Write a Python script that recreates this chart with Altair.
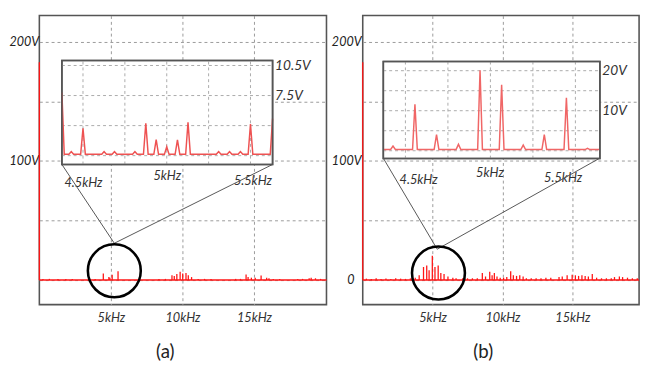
import altair as alt
import pandas as pd

FONT = "Lato, sans-serif"
RED = "#ff1414"

# ---------------- panel (a) data ----------------
a_spike_khz = [0.0, 0.25, 0.7, 1.3, 1.85, 2.3, 3.9,
               4.47, 4.86, 4.93, 5.09, 5.5,
               8.36, 8.81, 9.27, 9.43, 9.61, 9.84, 10.02, 10.25, 10.41, 10.64, 11.1, 11.55, 12.0,
               13.72, 14.06, 14.45, 14.59, 14.82, 15.09, 15.5, 15.89, 16.05, 16.35, 16.8,
               18.06, 18.4, 18.86, 19.0, 19.3, 19.66]
a_spike_v = [183, 1, 1, 1, 1, 1, 1,
             5.5, 2.5, 2.0, 4.5, 7.5,
             1, 1, 4.1, 3.5, 5.0, 6.9, 5.5, 6.0, 4.0, 2.5, 1, 1, 1,
             1, 1, 4.7, 2.5, 2.0, 2.0, 3.8, 2.0, 1.5, 1, 1,
             1, 1, 1.5, 2.0, 1.5, 1]
a_inset_peak_khz = [4.43, 4.5, 4.626, 4.688, 4.81, 4.875, 4.937, 5.0, 5.064, 5.127,
                    5.31, 5.375, 5.44, 5.5]
a_inset_peak_v = [1.9, 4.24, 1.9, 1.9, 1.9, 4.73, 3.1, 2.38, 3.07, 4.83,
                  1.9, 1.9, 1.9, 4.66]
a_inset_base_v = 1.63
a_inset_edge_v = [7.8, 5.2]
a_circle = [5.24, 7.8]
a_conn_from = [[1.575, 97.1], [16.3, 97.1]]
a_conn_to = [5.24, 30.9]

# ---------------- panel (b) data ----------------
b_spike_khz = [0.0, 0.26, 0.61, 0.96, 1.31, 1.66, 2.01, 2.36, 2.71, 3.06, 3.41,
               3.76, 4.04, 4.35, 4.58, 4.75, 4.98, 5.17, 5.4, 5.59, 5.82, 6.1, 6.45, 6.68,
               7.15, 7.5, 7.85, 8.2, 8.56, 8.79, 9.09, 9.26, 9.42, 9.61, 9.84, 10.08, 10.31,
               10.59, 10.78, 11.01, 11.24, 11.48, 11.71, 12.06, 12.41, 12.76, 13.11, 13.46,
               14.05, 14.28, 14.63, 14.99, 15.22, 15.45, 15.69, 15.92, 16.15, 16.43, 16.74,
               17.09, 17.44, 17.79, 18.02, 18.37, 18.6, 18.95, 19.3, 19.65]
b_spike_v = [183, 1.2, 1.0, 1.5, 1.0, 1.3, 1.0, 1.5, 1.2, 1.0, 1.4,
             2.0, 4.1, 11.0, 12.3, 8.2, 20.5, 11.0, 12.3, 6.0, 5.0, 3.0, 2.0, 1.5,
             1.5, 1.5, 1.5, 1.5, 6.0, 3.0, 6.9, 4.0, 6.0, 3.0, 2.0, 2.0, 2.5,
             7.4, 4.0, 3.5, 4.0, 3.0, 1.5, 1.5, 1.5, 1.5, 2.0, 2.0,
             2.5, 3.0, 4.0, 4.5, 4.0, 3.5, 4.0, 3.5, 3.0, 5.0, 2.0,
             1.5, 1.5, 1.5, 2.5, 3.0, 2.5, 2.0, 1.5, 1.5]
b_inset_peak_khz = [4.427, 4.556, 4.683, 4.812, 4.939, 5.066, 5.193, 5.317, 5.447, 5.571]
b_inset_peak_v = [1.15, 11.6, 4.0, 1.6, 20.1, 16.5, 1.4, 4.0, 13.2, 0.6]
b_inset_base_v = 0.3
b_inset_edge_v = [0.3, 0.3]
b_circle = [5.42, 5.9]
b_conn_from = [[1.47, 102.4], [16.97, 102.4]]
b_conn_to = [5.33, 25.9]


def inset_line(peaks_f, peaks_v, base, edges, xmin, xmax, hw):
    fs = [xmin, xmin + hw]
    vs = [edges[0], base]
    for f, v in zip(peaks_f, peaks_v):
        fs += [f - hw, f, f + hw]
        vs += [base, v, base]
    fs += [xmax - hw, xmax]
    vs += [base, edges[1]]
    return pd.DataFrame({"f": fs, "v": vs})


def y_label_expr(labelled):
    parts = []
    for v in labelled:
        txt = "0" if v == 0 else f"{v}V"
        parts.append(f"datum.value == {v} ? '{txt}'")
    return " : ".join(parts) + " : ''"


def cond_num(lo_val, hi_val, mid_val):
    return {"condition": [{"test": "datum.value < 4.75", "value": lo_val},
                          {"test": "datum.value > 5.25", "value": hi_val}],
            "value": mid_val}


def panel(W, H, xdom, ydom, spikes_f, spikes_v, ylabelled, ylab_left, circle, conn_from, conn_to,
          in_xdom, in_xrange, in_ydom, in_yrange, in_vgrid, in_hgrid, in_ylabels,
          in_peaks_f, in_peaks_v, in_base, in_edges, in_color, lab_off, lab_pad,
          title, title_dx):
    sx = alt.Scale(domain=xdom, nice=False, zero=False)
    sy = alt.Scale(domain=ydom, nice=False, zero=False)
    ax = alt.Axis(values=[5, 10, 15], labelExpr="datum.value + 'kHz'", grid=True,
                  gridDash=[3, 3], gridColor="#9a9a9a", gridWidth=1, labelFontSize=13,
                  labelPadding=7, labelFlush=False, title=None)
    # left-aligned labels at a fixed distance from the axis, "0" right-aligned near it
    ay = alt.Axis(values=[0, 50, 100, 150, 200], labelExpr=y_label_expr(ylabelled), grid=True,
                  gridDash=[3, 3], gridColor="#9a9a9a", gridWidth=1, labelFontSize=12.8,
                  labelColor="#222222",
                  labelAlign={"condition": {"test": "datum.value == 0", "value": "right"},
                              "value": "left"},
                  labelPadding={"condition": {"test": "datum.value == 0", "value": 9},
                                "value": ylab_left},
                  title=None)

    def X(f):
        return alt.X(f, type="quantitative", scale=sx, axis=ax)

    def Y(f):
        return alt.Y(f, type="quantitative", scale=sy, axis=ay)

    base_df = pd.DataFrame({"f": [xdom[0], xdom[1]], "v": [0, 0]})
    base = alt.Chart(base_df).mark_line(color=RED, strokeWidth=1.6).encode(x=X("f"), y=Y("v"))
    sp_df = pd.DataFrame({"f": spikes_f, "v0": 0.0, "v": spikes_v})
    spikes = alt.Chart(sp_df).mark_rule(color=RED, strokeWidth=1.3).encode(
        x=X("f"), y=Y("v0"), y2="v")
    cn_df = pd.DataFrame({"f": [p[0] for p in conn_from], "v": [p[1] for p in conn_from],
                          "f2": [conn_to[0]] * 2, "v2": [conn_to[1]] * 2})
    conns = alt.Chart(cn_df).mark_rule(color="#555555", strokeWidth=1).encode(
        x=X("f"), y=Y("v"), x2="f2", y2="v2")
    c_df = pd.DataFrame({"f": [circle[0]], "v": [circle[1]]})
    circ = alt.Chart(c_df).mark_point(shape="circle", size=2916, filled=False, color="black",
                                      strokeWidth=2.6, opacity=1).encode(x=X("f"), y=Y("v"))
    main = alt.layer(base, spikes, conns, circ)

    isx = alt.Scale(domain=in_xdom, range=in_xrange, nice=False, zero=False)
    isy = alt.Scale(domain=in_ydom, range=in_yrange, nice=False, zero=False)
    iax = alt.Axis(values=[4.5, 5, 5.5], labelExpr="datum.value + 'kHz'", grid=False,
                   orient="bottom", offset=-(H - in_yrange[0]),
                   labelPadding=cond_num(lab_pad[0], lab_pad[2], lab_pad[1]),
                   labelOffset=cond_num(lab_off[0], lab_off[2], lab_off[1]),
                   labelFontSize=13, labelFlush=False, title=None)
    iay = alt.Axis(values=in_ylabels, labelExpr="datum.value + 'V'", grid=False,
                   orient="right", offset=-(W - in_xrange[1]), labelPadding=2,
                   labelFontSize=14, title=None)

    def IX(f):
        return alt.X(f, type="quantitative", scale=isx, axis=iax)

    def IY(f):
        return alt.Y(f, type="quantitative", scale=isy, axis=iay)

    box_df = pd.DataFrame({"f": [in_xdom[0]], "f2": [in_xdom[1]],
                           "v": [in_ydom[0]], "v2": [in_ydom[1]]})
    box = alt.Chart(box_df).mark_rect(fill="white", stroke="#555555", strokeWidth=1.6).encode(
        x=IX("f"), x2="f2", y=IY("v"), y2="v2")
    gv_df = pd.DataFrame({"f": in_vgrid, "v": in_ydom[0], "v2": in_ydom[1]})
    gv = alt.Chart(gv_df).mark_rule(color="#aaaaaa", strokeDash=[3, 3], strokeWidth=1).encode(
        x=IX("f"), y=IY("v"), y2="v2")
    gh_df = pd.DataFrame({"v": in_hgrid, "f": in_xdom[0], "f2": in_xdom[1]})
    gh = alt.Chart(gh_df).mark_rule(color="#aaaaaa", strokeDash=[3, 3], strokeWidth=1).encode(
        x=IX("f"), x2="f2", y=IY("v"))
    ln_df = inset_line(in_peaks_f, in_peaks_v, in_base, in_edges, in_xdom[0], in_xdom[1], 0.014)
    ln = alt.Chart(ln_df).mark_line(color=in_color, strokeWidth=1.5).encode(
        x=IX("f"), y=IY("v"))
    box_redraw = alt.Chart(box_df).mark_rect(fill=None, stroke="#555555", strokeWidth=1.6).encode(
        x=IX("f"), x2="f2", y=IY("v"), y2="v2")
    inset = alt.layer(box, gv, gh, ln, box_redraw)

    return alt.layer(main, inset).resolve_scale(x="independent", y="independent").properties(
        width=W, height=H,
        title=alt.TitleParams(title, orient="bottom", anchor="middle", frame="group",
                              dx=title_dx, offset=19, fontSize=19, font=FONT,
                              fontWeight="normal", color="#222222"))


pa = panel(293, 295, [0, 20.07], [-20.6, 222.2], a_spike_khz, a_spike_v, [100, 200], 31,
           a_circle, a_conn_from, a_conn_to,
           [4.374, 5.632], [23, 238], [0.62, 10.99], [152, 46],
           [4.5, 4.75, 5, 5.25, 5.5], [1.5, 4.5, 7.5, 10.5], [7.5, 10.5],
           a_inset_peak_khz, a_inset_peak_v, a_inset_base_v, a_inset_edge_v, "#ee5252",
           [0, 0, 2], [13, 5, 10], "(a)", -18)

pb = panel(282, 295, [0, 19.78], [-20.6, 222.2], b_spike_khz, b_spike_v, [0, 100, 200], 32,
           b_circle, b_conn_from, b_conn_to,
           [4.370, 5.644], [21, 242], [-1.96, 22.28], [146, 47],
           [4.5, 4.75, 5, 5.25, 5.5], [0, 5, 10, 15, 20], [10, 20],
           b_inset_peak_khz, b_inset_peak_v, b_inset_base_v, b_inset_edge_v, "#f06666",
           [13, -1, -13], [15, 8, 13], "(b)", -18)

chart = alt.hconcat(pa, pb, spacing=37, bounds="flush").properties(
    padding={"left": 0, "top": 3, "right": 0, "bottom": 0}
).configure_view(stroke="#555555", strokeWidth=1.6).configure_axis(
    labelFont=FONT, labelFontStyle="italic", labelColor="#333333", ticks=False, domain=False
)

chart.save("out.html", embed_options={"renderer": "svg", "actions": False})
